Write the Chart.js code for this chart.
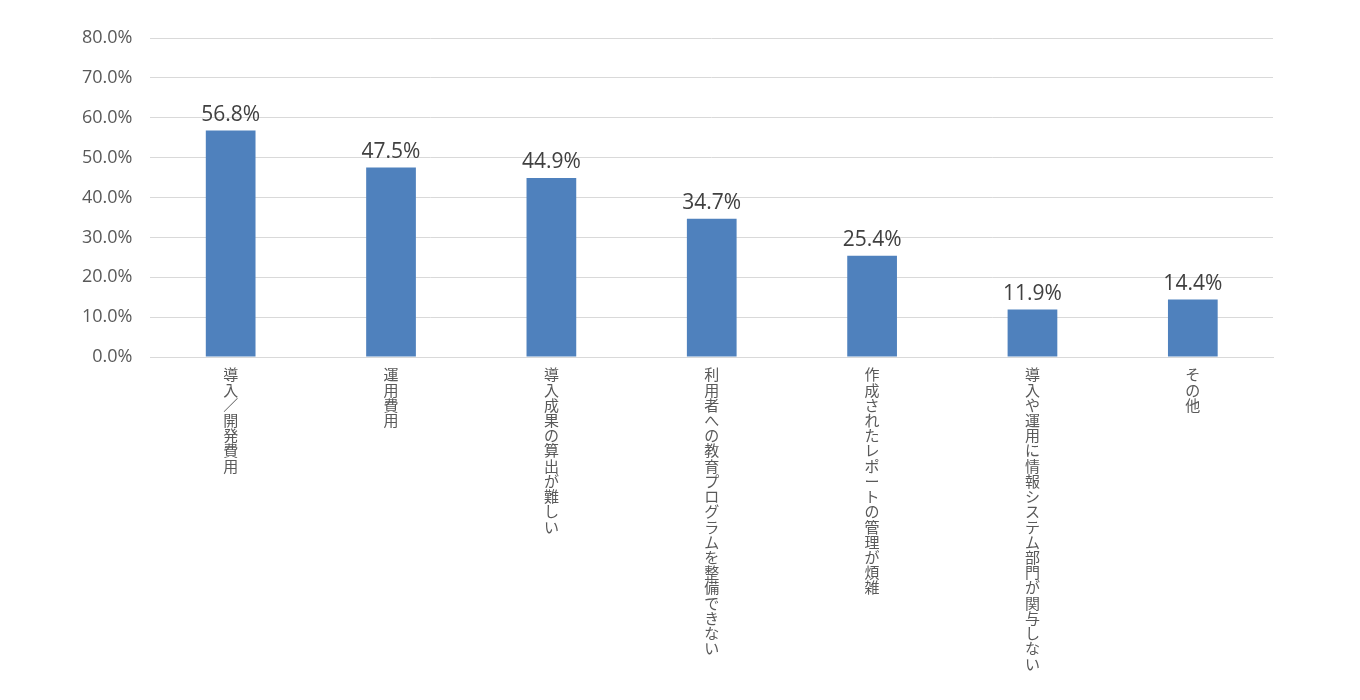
<!DOCTYPE html>
<html>
<head>
<meta charset="utf-8">
<script src="https://cdn.jsdelivr.net/npm/chart.js@4"></script>
<style>
  html, body { margin: 0; padding: 0; background: #fff; }
  #wrap { width: 1360px; height: 700px; }
</style>
</head>
<body>
<div id="wrap"><canvas id="chartKendala"></canvas></div>
<script>
// data
const categories = [
  "導入／開発費用",
  "運用費用",
  "導入成果の算出が難しい",
  "利用者への教育プログラムを整備できない",
  "作成されたレポートの管理が煩雑",
  "導入や運用に情報システム部門が関与しない",
  "その他"
];
const values = [56.8, 47.5, 44.9, 34.7, 25.4, 11.9, 14.4];
const yTicks = [0, 10, 20, 30, 40, 50, 60, 70, 80];

// vertical text: one character per line
const verticalLabels = categories.map(c => Array.from(c));

// value labels above each bar
const valueLabels = {
  id: "valueLabels",
  afterDatasetsDraw(chart) {
    const ctx = chart.ctx;
    const meta = chart.getDatasetMeta(0);
    ctx.save();
    ctx.font = "21px 'Open Sans', 'Noto Sans', sans-serif";
    ctx.fillStyle = "#404040";
    ctx.textAlign = "center";
    ctx.textBaseline = "bottom";
    meta.data.forEach((bar, i) => {
      ctx.fillText(values[i].toFixed(1) + "%", bar.x, bar.y - 5);
    });
    ctx.restore();
  }
};

const ctx = document.getElementById("chartKendala");

new Chart(ctx, {
  type: "bar",
  data: {
    labels: verticalLabels,
    datasets: [{
      data: values,
      backgroundColor: "#4f81bd",
      barPercentage: 0.62,
      categoryPercentage: 0.5
    }]
  },
  options: {
    responsive: true,
    maintainAspectRatio: false,
    animation: false,
    layout: { padding: { top: 38, right: 87, bottom: 0, left: 64 } },
    plugins: {
      legend: { display: false },
      tooltip: { enabled: false }
    },
    scales: {
      x: {
        afterFit(axis) {
          // room for the stacked vertical labels
          axis.height = 343;
        },
        grid: { display: false },
        border: { color: "#d9d9d9" },
        ticks: {
          maxRotation: 0,
          minRotation: 0,
          autoSkip: false,
          padding: 2,
          color: "#595959",
          font: { family: "'Noto Sans CJK JP', sans-serif", size: 15, lineHeight: 1.015 }
        }
      },
      y: {
        min: 0,
        max: 80,
        afterBuildTicks(axis) {
          axis.ticks = yTicks.map(v => ({ value: v }));
        },
        grid: { color: "#d9d9d9", drawTicks: false },
        border: { display: false },
        ticks: {
          padding: 18,
          color: "#595959",
          font: { family: "'Open Sans', 'Noto Sans', sans-serif", size: 18 },
          callback: v => v.toFixed(1) + "%"
        }
      }
    }
  },
  plugins: [valueLabels]
});
</script>
</body>
</html>
